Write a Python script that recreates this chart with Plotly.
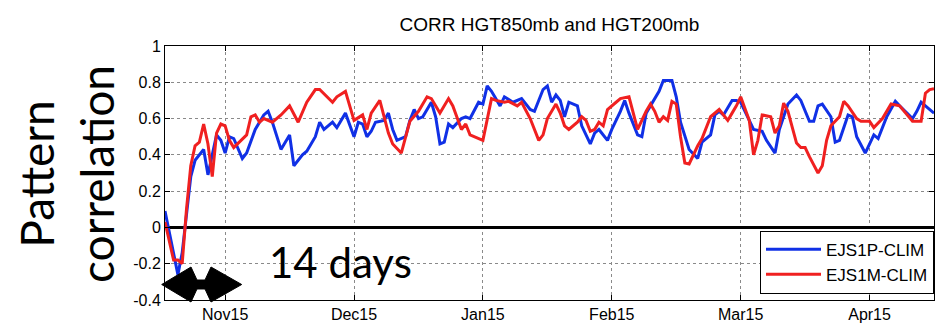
import plotly.graph_objects as go

# Day index from 1 Nov; ticks every 30 days
tick_days = [14, 44, 74, 104, 134, 164]
tick_labels = ["Nov15", "Dec15", "Jan15", "Feb15", "Mar15", "Apr15"]
y_ticks = [-0.4, -0.2, 0, 0.2, 0.4, 0.6, 0.8, 1]
y_labels = ["-0.4", "-0.2", "0", "0.2", "0.4", "0.6", "0.8", "1"]

# EJS1P-CLIM pattern correlation
days_p = [0, 3, 4, 6, 7, 9, 10, 12, 13, 14, 15, 16, 18, 19, 21, 23, 24, 25, 27, 29,
          30, 32, 33, 35, 36, 37, 39, 40, 42, 44, 45, 46, 47, 48, 49, 51, 52, 53, 54, 56,
          57, 58, 59, 60, 62, 63, 64, 65, 66, 67, 69, 70, 71, 73, 74, 75, 76, 78, 79, 81,
          83, 85, 86, 88, 89, 90, 91, 92, 93, 94, 96, 97, 99, 100, 101, 103, 104, 106, 107, 108,
          110, 111, 112, 113, 115, 116, 118, 119, 120, 122, 124, 125, 127, 128, 129, 130, 132, 133, 134, 136,
          137, 139, 140, 142, 143, 145, 147, 148, 150, 151, 152, 153, 155, 156, 157, 159, 160, 161, 163, 165,
          166, 168, 170, 171, 174, 175, 176, 177, 179]
corr_p = [0.09, -0.26, -0.14, 0.28, 0.37, 0.43, 0.29, 0.51, 0.48, 0.41, 0.50, 0.49, 0.38, 0.41, 0.54, 0.62, 0.64, 0.58, 0.43, 0.51,
          0.34, 0.40, 0.42, 0.50, 0.58, 0.54, 0.58, 0.55, 0.63, 0.50, 0.58, 0.57, 0.50, 0.53, 0.58, 0.59, 0.63, 0.54, 0.48, 0.50,
          0.59, 0.65, 0.60, 0.61, 0.69, 0.61, 0.46, 0.47, 0.57, 0.55, 0.60, 0.61, 0.60, 0.69, 0.68, 0.78, 0.75, 0.67, 0.72, 0.69,
          0.71, 0.65, 0.64, 0.76, 0.78, 0.69, 0.73, 0.70, 0.61, 0.69, 0.67, 0.56, 0.46, 0.52, 0.54, 0.48, 0.54, 0.64, 0.70, 0.63,
          0.51, 0.50, 0.63, 0.67, 0.75, 0.81, 0.81, 0.72, 0.58, 0.43, 0.38, 0.47, 0.51, 0.62, 0.64, 0.62, 0.70, 0.70, 0.69, 0.59,
          0.54, 0.53, 0.48, 0.41, 0.54, 0.68, 0.73, 0.70, 0.585, 0.585, 0.67, 0.68, 0.61, 0.47, 0.48, 0.62, 0.61, 0.50, 0.41, 0.51,
          0.49, 0.61, 0.695, 0.67, 0.60, 0.64, 0.69, 0.67, 0.63]

# EJS1M-CLIM pattern correlation
days_m = [0, 2, 3, 4, 5, 6, 7, 8, 9, 10, 11, 12, 13, 14, 15, 16, 19, 20, 21, 22,
          23, 25, 27, 29, 31, 33, 35, 36, 39, 40, 42, 44, 46, 47, 48, 50, 52, 53, 55, 57,
          59, 61, 62, 64, 66, 67, 69, 70, 71, 74, 76, 77, 79, 80, 82, 83, 85, 87, 88, 89,
          91, 92, 93, 94, 96, 97, 98, 99, 100, 101, 102, 103, 105, 106, 108, 109, 110, 112, 113, 114,
          115, 116, 117, 118, 119, 120, 121, 122, 124, 125, 127, 129, 131, 132, 133, 134, 136, 137, 138, 139,
          141, 142, 143, 144, 145, 147, 148, 149, 150, 152, 153, 154, 155, 157, 158, 159, 161, 162, 164, 165,
          167, 169, 171, 174, 176, 177, 178, 179]
corr_m = [0.03, -0.18, -0.18, -0.20, 0.10, 0.34, 0.45, 0.47, 0.57, 0.46, 0.28, 0.52, 0.57, 0.56, 0.48, 0.44, 0.51, 0.61, 0.62, 0.58,
          0.60, 0.58, 0.62, 0.67, 0.58, 0.69, 0.76, 0.76, 0.69, 0.72, 0.75, 0.59, 0.62, 0.54, 0.63, 0.70, 0.52, 0.46, 0.41, 0.585,
          0.64, 0.72, 0.71, 0.63, 0.71, 0.67, 0.54, 0.57, 0.51, 0.48, 0.71, 0.70, 0.69, 0.695, 0.67, 0.69, 0.60, 0.48, 0.51, 0.60,
          0.68, 0.63, 0.56, 0.54, 0.58, 0.61, 0.59, 0.53, 0.54, 0.58, 0.56, 0.65, 0.69, 0.71, 0.72, 0.63, 0.54, 0.64, 0.68, 0.64,
          0.58, 0.61, 0.59, 0.695, 0.68, 0.50, 0.355, 0.35, 0.45, 0.49, 0.61, 0.65, 0.59, 0.63, 0.67, 0.72, 0.59, 0.40, 0.48, 0.62,
          0.61, 0.52, 0.56, 0.685, 0.64, 0.465, 0.44, 0.44, 0.39, 0.30, 0.34, 0.48, 0.56, 0.61, 0.695, 0.67, 0.60, 0.585, 0.585, 0.55,
          0.60, 0.68, 0.67, 0.585, 0.585, 0.74, 0.76, 0.765]

W, H = 942, 333
L, R, T, B = 165, 934, 46, 300
SANS = "Liberation Sans, Arial, Helvetica, sans-serif"
HUMANIST = "Lato, Open Sans, sans-serif"


def to_paper(xp, yp):
    """Convert a pixel position on the page to paper coordinates."""
    return (xp - L) / (R - L), (B - yp) / (B - T)


fig = go.Figure()
fig.add_trace(go.Scatter(x=days_p, y=corr_p, mode="lines", name="EJS1P-CLIM",
                         line=dict(color="#1030e6", width=3)))
fig.add_trace(go.Scatter(x=days_m, y=corr_m, mode="lines", name="EJS1M-CLIM",
                         line=dict(color="#f02020", width=3)))

# double-headed "14 days" arrow
arrow_px = [(161.7, 284.5), (191, 267), (197, 280), (205, 280), (211, 267),
            (241.7, 284.5), (211, 302), (205, 289), (197, 289), (191, 302)]
pts = [to_paper(*p) for p in arrow_px]
path = "M " + " L ".join(f"{x:.5f},{y:.5f}" for x, y in pts) + " Z"
fig.add_shape(type="path", path=path, xref="paper", yref="paper",
              fillcolor="black", line=dict(color="black", width=1), layer="above")

ax, ay = to_paper(340.5, 262)
fig.add_annotation(text="14 days", xref="paper", yref="paper", x=ax, y=ay,
                   xanchor="center", yanchor="middle", showarrow=False,
                   font=dict(family=HUMANIST, size=42, color="black"))

lx, ly = to_paper(66, 174)
fig.add_annotation(text="Pattern<br>correlation", xref="paper", yref="paper",
                   x=lx, y=ly, xanchor="center", yanchor="middle", textangle=-90,
                   showarrow=False, font=dict(family=HUMANIST, size=46, color="black"))

axis_common = dict(showline=True, linecolor="black", linewidth=1, mirror="allticks",
                   ticks="inside", ticklen=5, tickcolor="black",
                   showgrid=True, gridcolor="#8a8a8a", gridwidth=1, griddash="dot",
                   tickfont=dict(family=SANS, size=16, color="black"))

fig.update_layout(
    width=W, height=H,
    margin=dict(l=L, r=W - R, t=T, b=H - B),
    paper_bgcolor="white", plot_bgcolor="white",
    title=dict(text="CORR HGT850mb and HGT200mb", x=0.5, xref="paper",
               y=1 - 24 / H, yref="container", xanchor="center", yanchor="middle",
               font=dict(family=SANS, size=19, color="black")),
    xaxis=dict(range=[0, 179], tickvals=tick_days, ticktext=tick_labels,
               zeroline=False, **axis_common),
    yaxis=dict(range=[-0.4, 1], tickvals=y_ticks, ticktext=y_labels,
               zeroline=True, zerolinecolor="black", zerolinewidth=2.5, **axis_common),
    legend=dict(x=1, xanchor="right", y=0.025, yanchor="bottom",
                bgcolor="white", bordercolor="black", borderwidth=1, itemwidth=55,
                font=dict(family=SANS, size=17, color="black"), tracegroupgap=0),
    showlegend=True,
)

fig.write_html("out.html")
